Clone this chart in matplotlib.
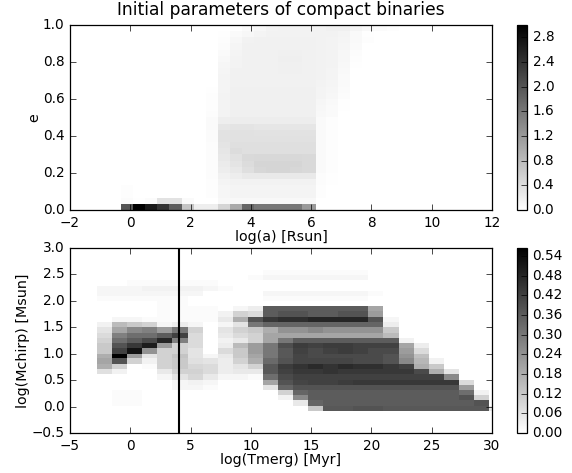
import numpy as np
import matplotlib
matplotlib.use('Agg')
import matplotlib.pyplot as plt

# bin edges of the two histograms
a_edges = [-0.3, 0.1, 0.5, 0.9, 1.3, 1.7, 2.1, 2.5, 2.9, 3.3, 3.7, 4.1, 4.5, 4.9, 5.3, 5.7, 6.16, 6.5, 6.9, 7.3, 7.7, 8.1, 8.5, 8.9, 9.3]
e_edges = [i / 30 for i in range(31)]
t_edges = [-2.75, -1.5, -0.25, 1, 2.25, 3.5, 4.75, 6, 7.25, 8.5, 9.75, 11, 12.25, 13.5, 14.75, 16, 17.25, 18.5, 19.75, 21, 22.25, 23.5, 24.75, 26, 27.25, 28.5, 29.75, 31]
m_edges = [-0.08, 0.02, 0.12, 0.22, 0.32, 0.41, 0.51, 0.61, 0.71, 0.81, 0.91, 1.0, 1.1, 1.2, 1.3, 1.4, 1.5, 1.6, 1.7, 1.8, 1.9, 2.0, 2.09, 2.19, 2.29, 2.39, 2.49, 2.59]

# density, in hundredths, bottom row first
a_e_density = [
    [200, 300, 270, 240, 190, 70, 20, 20, 50, 100, 180, 160, 160, 160, 160, 120, 0, 0, 0, 0, 0, 0, 0, 0],
    [5, 2, 5, 35, 35, 6, 0, 1, 9, 9, 9, 9, 9, 9, 9, 9, 1, 0, 0, 0, 0, 0, 0, 0],
    [3, 1, 0, 1, 0, 0, 0, 3, 11, 14, 14, 14, 14, 14, 14, 14, 3, 1, 0, 0, 0, 0, 0, 0],
    [3, 1, 0, 0, 0, 0, 0, 3, 11, 14, 14, 14, 14, 14, 14, 14, 3, 1, 0, 0, 0, 0, 0, 0],
    [0, 1, 0, 0, 0, 0, 0, 3, 13, 16, 16, 16, 16, 16, 16, 16, 4, 2, 0, 0, 0, 0, 0, 0],
    [0, 0, 0, 0, 0, 0, 0, 4, 17, 22, 26, 26, 26, 26, 26, 26, 4, 2, 0, 0, 0, 0, 0, 0],
    [0, 0, 0, 0, 0, 0, 0, 4, 22, 28, 38, 48, 50, 50, 48, 45, 6, 3, 0, 0, 0, 0, 0, 0],
    [0, 0, 0, 0, 0, 0, 0, 4, 24, 32, 42, 50, 50, 50, 50, 45, 6, 3, 0, 0, 0, 0, 0, 0],
    [0, 0, 0, 0, 0, 0, 0, 4, 27, 36, 45, 46, 46, 46, 46, 45, 6, 3, 0, 0, 0, 0, 0, 0],
    [0, 0, 0, 0, 0, 0, 0, 4, 30, 42, 38, 38, 38, 38, 38, 38, 6, 3, 0, 0, 0, 0, 0, 0],
    [0, 0, 0, 0, 0, 0, 0, 4, 32, 38, 38, 38, 38, 38, 38, 38, 6, 3, 0, 0, 0, 0, 0, 0],
    [0, 0, 0, 0, 0, 0, 0, 5, 34, 36, 36, 36, 36, 36, 36, 36, 6, 3, 0, 0, 0, 0, 0, 0],
    [0, 0, 0, 0, 0, 0, 0, 5, 34, 36, 36, 34, 34, 34, 34, 34, 6, 3, 0, 0, 0, 0, 0, 0],
    [0, 0, 0, 0, 0, 0, 0, 6, 30, 32, 32, 30, 30, 30, 30, 30, 6, 3, 0, 0, 0, 0, 0, 0],
    [0, 0, 0, 0, 0, 0, 0, 6, 20, 22, 22, 22, 22, 22, 22, 22, 7, 3, 0, 0, 0, 0, 0, 0],
    [0, 0, 0, 0, 0, 0, 0, 4, 15, 18, 18, 18, 18, 18, 18, 18, 9, 6, 1, 0, 0, 0, 0, 0],
    [0, 0, 0, 0, 0, 0, 1, 3, 15, 18, 18, 18, 18, 18, 18, 18, 10, 7, 2, 0, 0, 0, 0, 0],
    [0, 0, 0, 0, 0, 0, 1, 3, 15, 18, 18, 18, 18, 18, 18, 18, 11, 8, 2, 0, 0, 0, 0, 0],
    [0, 0, 0, 0, 0, 0, 1, 3, 15, 18, 18, 18, 18, 18, 18, 18, 13, 10, 4, 0, 0, 0, 0, 0],
    [0, 0, 0, 0, 0, 0, 0, 2, 14, 18, 18, 18, 18, 18, 18, 18, 14, 11, 5, 0, 0, 0, 0, 0],
    [0, 0, 0, 0, 0, 0, 0, 0, 13, 17, 17, 17, 17, 17, 17, 17, 15, 12, 6, 0, 0, 0, 0, 0],
    [0, 0, 0, 0, 0, 0, 0, 0, 13, 17, 17, 17, 17, 17, 17, 17, 16, 13, 7, 1, 0, 0, 0, 0],
    [0, 0, 0, 0, 0, 0, 0, 0, 12, 17, 17, 17, 17, 18, 18, 17, 16, 14, 8, 1, 0, 0, 0, 0],
    [0, 0, 0, 0, 0, 0, 0, 0, 11, 15, 17, 17, 17, 18, 18, 17, 16, 15, 9, 2, 0, 0, 0, 0],
    [0, 0, 0, 0, 0, 0, 0, 0, 9, 15, 17, 17, 17, 19, 19, 17, 16, 15, 10, 3, 0, 0, 0, 0],
    [0, 0, 0, 0, 0, 0, 0, 0, 7, 14, 17, 17, 17, 18, 18, 17, 16, 15, 10, 4, 0, 0, 0, 0],
    [0, 0, 0, 0, 0, 0, 0, 0, 4, 12, 17, 17, 17, 17, 17, 17, 16, 15, 11, 6, 1, 0, 0, 0],
    [0, 0, 0, 0, 0, 0, 0, 0, 3, 10, 16, 17, 17, 17, 17, 17, 16, 15, 12, 8, 3, 0, 0, 0],
    [0, 0, 0, 0, 0, 0, 0, 0, 2, 6, 10, 13, 16, 16, 16, 16, 16, 16, 13, 8, 2, 0, 0, 0],
    [0, 0, 0, 0, 0, 0, 0, 0, 0, 2, 7, 10, 15, 16, 16, 16, 16, 18, 18, 14, 9, 5, 3, 1],
]

t_m_density = [
    [0, 0, 0, 0, 0, 0, 0, 0, 0, 0, 0, 0, 0, 0, 12, 37, 37, 38, 38, 37, 37, 37, 37, 37, 37, 37, 5],
    [0, 1, 1, 0, 0, 0, 0, 0, 0, 0, 0, 0, 0, 5, 34, 36, 36, 36, 36, 36, 36, 36, 36, 36, 36, 38, 0],
    [0, 1, 1, 0, 0, 0, 0, 0, 0, 0, 0, 0, 3, 26, 36, 36, 36, 36, 36, 36, 36, 36, 36, 36, 38, 10, 0],
    [0, 1, 1, 0, 0, 0, 0, 0, 0, 0, 0, 0, 10, 34, 36, 36, 36, 36, 36, 36, 36, 36, 36, 36, 32, 3, 0],
    [0, 0, 0, 0, 0, 2, 2, 1, 0, 0, 0, 6, 34, 38, 38, 38, 38, 38, 38, 38, 38, 38, 38, 38, 22, 0, 0],
    [0, 0, 0, 0, 0, 2, 3, 2, 0, 0, 0, 20, 38, 41, 42, 42, 43, 44, 44, 44, 44, 44, 44, 44, 8, 0, 0],
    [0, 0, 0, 0, 2, 6, 9, 5, 2, 2, 1, 32, 40, 42, 42, 42, 42, 42, 42, 42, 42, 42, 42, 26, 0, 0, 0],
    [7, 3, 0, 0, 5, 10, 10, 8, 4, 5, 5, 37, 42, 44, 44, 45, 44, 44, 44, 44, 44, 40, 18, 6, 0, 0, 0],
    [18, 10, 0, 1, 10, 12, 9, 8, 4, 6, 10, 37, 43, 45, 47, 45, 47, 46, 46, 44, 42, 18, 12, 0, 0, 0, 0],
    [20, 38, 10, 3, 10, 12, 7, 6, 4, 10, 18, 33, 38, 41, 41, 41, 41, 40, 40, 38, 26, 16, 3, 0, 0, 0, 0],
    [18, 56, 22, 6, 10, 13, 6, 2, 5, 12, 20, 30, 37, 41, 40, 40, 40, 40, 40, 38, 24, 14, 0, 0, 0, 0, 0],
    [12, 42, 52, 24, 10, 10, 6, 0, 8, 12, 22, 30, 37, 42, 40, 42, 43, 42, 40, 40, 22, 8, 0, 0, 0, 0, 0],
    [12, 38, 44, 50, 22, 10, 8, 0, 4, 15, 22, 30, 39, 43, 42, 43, 43, 42, 42, 42, 20, 4, 0, 0, 0, 0, 0],
    [10, 32, 36, 40, 48, 28, 8, 0, 3, 5, 10, 20, 30, 36, 36, 36, 36, 36, 36, 36, 3, 0, 0, 0, 0, 0, 0],
    [8, 28, 32, 32, 36, 42, 8, 0, 5, 8, 10, 20, 20, 20, 20, 20, 20, 20, 20, 15, 0, 0, 0, 0, 0, 0, 0],
    [6, 20, 26, 28, 22, 30, 10, 0, 6, 10, 12, 18, 24, 24, 26, 24, 24, 24, 24, 12, 0, 0, 0, 0, 0, 0, 0],
    [3, 15, 12, 10, 2, 4, 2, 0, 2, 6, 30, 34, 34, 34, 34, 34, 34, 34, 34, 4, 0, 0, 0, 0, 0, 0, 0],
    [0, 2, 2, 1, 1, 1, 1, 1, 5, 18, 38, 44, 46, 46, 48, 48, 48, 48, 38, 2, 0, 0, 0, 0, 0, 0, 0],
    [0, 0, 0, 0, 1, 1, 1, 1, 3, 10, 8, 36, 38, 38, 36, 36, 38, 38, 22, 0, 0, 0, 0, 0, 0, 0, 0],
    [0, 0, 0, 0, 1, 1, 1, 1, 0, 2, 4, 36, 36, 36, 36, 36, 36, 36, 20, 0, 0, 0, 0, 0, 0, 0, 0],
    [0, 0, 0, 0, 1, 1, 0, 0, 0, 0, 0, 0, 0, 0, 0, 0, 0, 0, 0, 0, 0, 0, 0, 0, 0, 0, 0],
    [1, 1, 1, 1, 1, 1, 0, 0, 0, 0, 0, 1, 1, 1, 1, 1, 1, 1, 0, 0, 0, 0, 0, 0, 0, 0, 0],
    [2, 2, 2, 2, 2, 2, 2, 0, 0, 0, 0, 2, 2, 2, 2, 2, 2, 2, 1, 0, 0, 0, 0, 0, 0, 0, 0],
    [2, 2, 2, 3, 3, 3, 3, 2, 1, 0, 0, 0, 0, 0, 0, 0, 0, 0, 0, 0, 0, 0, 0, 0, 0, 0, 0],
    [0, 0, 1, 1, 1, 1, 1, 1, 0, 0, 0, 0, 0, 0, 0, 0, 0, 0, 0, 0, 0, 0, 0, 0, 0, 0, 0],
    [0, 0, 0, 0, 0, 0, 0, 0, 0, 0, 1, 2, 2, 2, 2, 2, 2, 2, 0, 0, 0, 0, 0, 0, 0, 0, 0],
    [0, 0, 0, 0, 0, 0, 0, 0, 0, 0, 0, 1, 1, 1, 1, 1, 1, 1, 0, 0, 0, 0, 0, 0, 0, 0, 0],
]

tmerg_line = 4

plt.style.use('classic')
plt.rcParams['font.family'] = 'DejaVu Sans'
plt.rcParams['font.size'] = 10.3
plt.rcParams['axes.linewidth'] = 0.9

W, H = 572, 473
fig = plt.figure(figsize=(W / 100, H / 100), dpi=100, facecolor='white')

def box(x0, y0, x1, y1):
    # pixel box, y from the top of the image
    return [x0 / W, 1 - y1 / H, (x1 - x0) / W, (y1 - y0) / H]

ax1 = fig.add_axes(box(70, 25, 492, 210))
cax1 = fig.add_axes(box(517, 25, 527, 210))
ax2 = fig.add_axes(box(70, 248, 492, 433))
cax2 = fig.add_axes(box(517, 248, 527, 433))

mesh1 = ax1.pcolormesh(a_edges, e_edges, np.array(a_e_density) / 100, cmap='gray_r', vmin=0, vmax=3.0)
ax1.set_xlim(-2, 12)
ax1.set_ylim(0, 1)
ax1.set_xticks(np.arange(-2, 13, 2))
ax1.set_yticks(np.arange(0, 1.01, 0.2))
ax1.set_xlabel('log(a) [Rsun]', labelpad=0)
ax1.set_ylabel('e', labelpad=1)
ax1.set_title('Initial parameters of compact binaries', fontsize=12.3, pad=7.5)
cb1 = fig.colorbar(mesh1, cax=cax1)
cb1.set_ticks(np.arange(0, 2.81, 0.4))

mesh2 = ax2.pcolormesh(t_edges, m_edges, np.array(t_m_density) / 100, cmap='gray_r', vmin=0, vmax=0.564)
ax2.axvline(tmerg_line, color='black', lw=1.5)
ax2.set_xlim(-5, 30)
ax2.set_ylim(-0.5, 3)
ax2.set_xticks(np.arange(-5, 31, 5))
ax2.set_yticks(np.arange(-0.5, 3.01, 0.5))
ax2.set_xlabel('log(Tmerg) [Myr]', labelpad=0)
ax2.set_ylabel('log(Mchirp) [Msun]', labelpad=1)
cb2 = fig.colorbar(mesh2, cax=cax2)
cb2.set_ticks(np.arange(0, 0.55, 0.06))
cb2.ax.set_yticklabels(['%.2f' % v for v in np.arange(0, 0.55, 0.06)])

for ax in (ax1, ax2, cax1, cax2):
    ax.tick_params(labelsize=9.8)

fig.savefig('out.png', dpi=100, facecolor='white')
